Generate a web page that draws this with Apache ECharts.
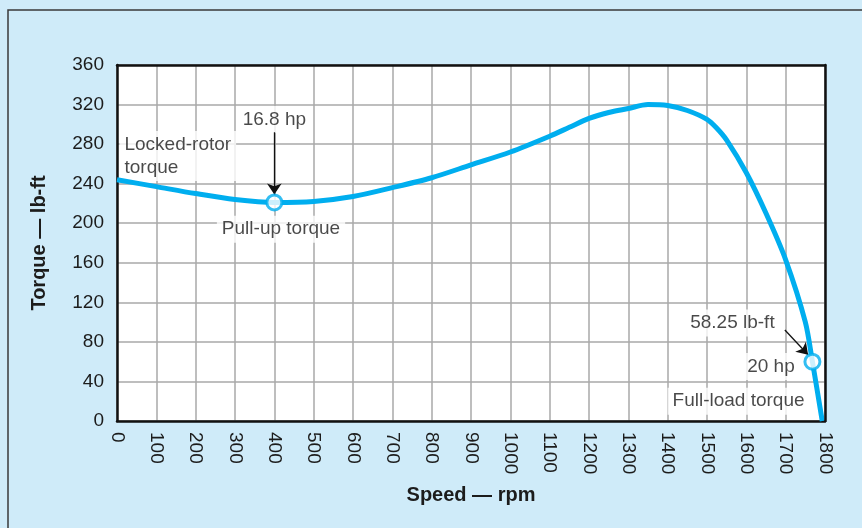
<!DOCTYPE html>
<html>
<head>
<meta charset="utf-8">
<script src="https://cdn.jsdelivr.net/npm/echarts@6/dist/echarts.min.js"></script>
<style>
html,body{margin:0;padding:0;background:#cfebf9;}
#chart{width:862px;height:528px;}
</style>
</head>
<body>
<div id="chart"></div>
<script>
// Speed (rpm) and torque (lb-ft)
const speed  = [0, 100, 200, 300, 400, 500, 600, 700, 800, 900, 1000, 1100, 1150, 1200, 1250, 1300, 1350, 1400, 1450, 1500, 1525, 1550, 1600, 1650, 1700, 1750, 1768, 1793];
const torque = [244, 237, 230, 224, 221, 222, 227, 236, 246, 259, 272, 288, 297, 306, 312, 316, 320, 319, 314, 305, 296, 284, 251, 210, 163, 100, 60, 0];

// Marked points: pull-up torque and full-load torque
const markSpeed  = [400, 1768];
const markTorque = [221, 60];

// Annotation texts and the data coordinates they refer to
const noteTexts  = ['Locked-rotor\ntorque', '16.8 hp', 'Pull-up torque', '58.25 lb-ft', '20 hp', 'Full-load torque'];
const noteSpeed  = [5, 400, 417, 1686, 1737, 1762];
const noteTorque = [268, 305, 194, 99, 55, 20];
const noteAnchor = ['right', 'inside', 'inside', 'left', 'left', 'left'];

// Arrows [speed, torque] start and end
const arrowFrom = [[400, 292], [1698, 92]];
const arrowTo   = [[400, 229], [1757, 67]];

// Axis settings
const xMin = 0, xMax = 1800, xStep = 100;
const yMin = 0, yMax = 360, yStep = 40;

const chart = echarts.init(document.getElementById('chart'), null, {renderer: 'canvas'});
const FONT = 'Liberation Sans';
const INK = '#1c1c1c';

const curve = speed.map((s, i) => [s, torque[i]]);
const marks = markSpeed.map((s, i) => [s, markTorque[i]]);
const notes = noteTexts.map((t, i) => ({
  value: [noteSpeed[i], noteTorque[i]],
  label: {
    show: true,
    formatter: t,
    position: noteAnchor[i],
    distance: 0,
    align: noteAnchor[i] === 'right' ? 'left' : (noteAnchor[i] === 'left' ? 'right' : 'center'),
    verticalAlign: 'middle'
  }
}));

const frameLine = {show: true, onZero: false, lineStyle: {color: '#111', width: 2.5}};
const gridLine = {show: true, lineStyle: {color: '#a9a9a9', width: 1.5}};

chart.setOption({
  animation: false,
  backgroundColor: '#cfebf9',
  graphic: [{
    type: 'rect',
    shape: {x: 8, y: 10, width: 900, height: 600},
    style: {fill: 'none', stroke: '#3a3a3a', lineWidth: 1.5},
    silent: true, z: 0
  }],
  grid: {
    left: 117, right: 37, top: 65, bottom: 107,
    show: true, backgroundColor: '#ffffff', borderWidth: 0
  },
  xAxis: [{
    type: 'value', min: xMin, max: xMax, interval: xStep,
    name: 'Speed — rpm', nameLocation: 'middle', nameGap: 64,
    nameTextStyle: {fontFamily: FONT, fontWeight: 'bold', fontSize: 20, color: INK},
    axisLine: frameLine, axisTick: {show: false},
    axisLabel: {rotate: -90, fontFamily: FONT, fontSize: 19, color: INK, margin: 11,
                formatter: v => String(v)},
    splitLine: gridLine, z: 1
  }, {
    type: 'value', position: 'top', min: xMin, max: xMax, interval: xStep,
    axisLine: frameLine, axisTick: {show: false}, axisLabel: {show: false},
    splitLine: {show: false}, z: 8
  }],
  yAxis: [{
    type: 'value', min: yMin, max: yMax, interval: yStep,
    name: 'Torque — lb-ft', nameLocation: 'middle', nameGap: 68, nameRotate: 90,
    nameTextStyle: {fontFamily: FONT, fontWeight: 'bold', fontSize: 20, color: INK},
    axisLine: frameLine, axisTick: {show: false},
    axisLabel: {fontFamily: FONT, fontSize: 19, color: INK, margin: 13},
    splitLine: gridLine, z: 1
  }, {
    type: 'value', position: 'right', min: yMin, max: yMax, interval: yStep,
    axisLine: frameLine, axisTick: {show: false}, axisLabel: {show: false},
    splitLine: {show: false}, z: 8
  }],
  series: [
    {
      type: 'scatter', name: 'notes', data: notes,
      symbolSize: 1, itemStyle: {color: 'rgba(0,0,0,0)'},
      label: {
        fontFamily: FONT, fontSize: 19, color: INK, lineHeight: 23,
        backgroundColor: '#ffffff', padding: [2, 5]
      },
      silent: true, z: 3
    },
    {
      type: 'line', name: 'torque', data: curve,
      smooth: 0.3, showSymbol: false,
      lineStyle: {color: '#00aeef', width: 5},
      z: 4
    },
    {
      type: 'line', name: 'arrows', data: [],
      markLine: {
        silent: true, symbol: ['none', 'arrow'], symbolSize: 11,
        label: {show: false},
        lineStyle: {color: '#111', width: 1.3, type: 'solid'},
        data: arrowFrom.map((f, i) => [{coord: f}, {coord: arrowTo[i]}])
      },
      z: 5
    },
    {
      type: 'scatter', name: 'marks', data: marks,
      symbol: 'circle', symbolSize: 15,
      itemStyle: {color: '#ffffff', borderColor: '#00aeef', borderWidth: 3},
      z: 6
    }
  ]
});
</script>
</body>
</html>
